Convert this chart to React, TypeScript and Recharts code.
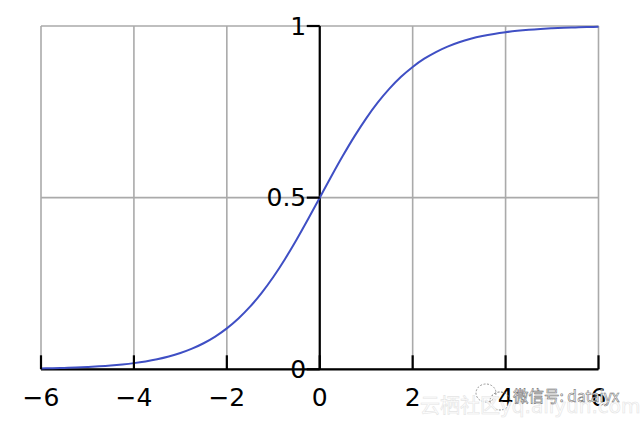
import React from "react";
import { ComposedChart, Line, XAxis, YAxis, CartesianGrid, ReferenceLine } from "recharts";

const xValues = [-6,-5.75,-5.5,-5.25,-5,-4.75,-4.5,-4.25,-4,-3.75,-3.5,-3.25,-3,-2.75,-2.5,-2.25,-2,-1.75,-1.5,-1.25,-1,-0.75,-0.5,-0.25,0,0.25,0.5,0.75,1,1.25,1.5,1.75,2,2.25,2.5,2.75,3,3.25,3.5,3.75,4,4.25,4.5,4.75,5,5.25,5.5,5.75,6];
const yValues = [0.0025,0.0032,0.0041,0.0052,0.0067,0.0086,0.011,0.0141,0.018,0.023,0.0293,0.0373,0.0474,0.0601,0.0759,0.0953,0.1192,0.148,0.1824,0.2227,0.2689,0.3208,0.3775,0.4378,0.5,0.5622,0.6225,0.6792,0.7311,0.7773,0.8176,0.852,0.8808,0.9047,0.9241,0.9399,0.9526,0.9627,0.9707,0.977,0.982,0.9859,0.989,0.9914,0.9933,0.9948,0.9959,0.9968,0.9975];
const xTicks = [-6,-4,-2,0,2,4,6];
const yTicks = [0,0.5,1];
const rows = xValues.map((x, i) => ({ x, y: yValues[i] }));

const W = 640, H = 427;
const FONT = "'DejaVu Sans', sans-serif";
const margin = { top: 26, right: 41.5, bottom: 0, left: 0 };
const AXIS_W = 41, AXIS_H = 57.7;
const plotW = W - AXIS_W - margin.right;

const XTick = (p: any) => {
  const v = p.payload.value;
  const baseY = H - AXIS_H;
  return (
    <g>
      <line x1={p.x} x2={p.x} y1={baseY} y2={baseY - 14} stroke="#000" strokeWidth={2.2} />
      <text x={p.x} y={baseY + 37} textAnchor="middle" fontFamily={FONT} fontSize={25} fill="#000">
        {v < 0 ? `\u2212${-v}` : v}
      </text>
    </g>
  );
};

const YTick = (p: any) => {
  const axisX = AXIS_W + plotW / 2;
  return (
    <g>
      <line x1={axisX - 13} x2={axisX} y1={p.y} y2={p.y} stroke="#000" strokeWidth={2.2} />
      <text x={axisX - 13.5} y={p.y + 8.5} textAnchor="end" fontFamily={FONT} fontSize={25} fill="#000">
        {p.payload.value}
      </text>
    </g>
  );
};

export default function App() {
  return (
    <div style={{ position: "absolute", left: 0, top: 0, width: W, height: H, background: "#fff" }}>
      <ComposedChart width={W} height={H} data={rows} margin={margin}>
        <CartesianGrid stroke="#aaaaaa" strokeWidth={1.6} verticalValues={xTicks} horizontalValues={yTicks} />
        <XAxis dataKey="x" type="number" domain={[-6, 6]} ticks={xTicks} interval={0} axisLine={false} tickLine={false} tick={<XTick />} height={AXIS_H} />
        <YAxis type="number" domain={[0, 1]} ticks={yTicks} interval={0} axisLine={false} tickLine={false} tick={<YTick />} width={AXIS_W} />
        <ReferenceLine x={0} stroke="#000" strokeWidth={2.2} />
        <ReferenceLine y={0} stroke="#000" strokeWidth={2.2} />
        <Line dataKey="y" type="monotone" stroke="#3f4fc4" strokeWidth={2} dot={false} isAnimationActive={false} />
      </ComposedChart>
      <svg width={W} height={H} style={{ position: "absolute", left: 0, top: 0, pointerEvents: "none" }}>
        <ellipse cx={486} cy={393} rx={10} ry={9} fill="none" stroke="#999" strokeWidth={1} strokeDasharray="2 1.5" />
        <ellipse cx={500} cy={401} rx={10} ry={9} fill="none" stroke="#777" strokeWidth={1} strokeDasharray="2 1.5" />
        <text x={420} y={413} fontFamily="'Noto Sans CJK SC', sans-serif" fontSize={20} fill="#fff" stroke="#e4e4e4" strokeWidth={0.6}>云栖社区</text>
        <text x={500} y={413} fontFamily={FONT} fontSize={20} fill="#fff" stroke="#e4e4e4" strokeWidth={0.6}>yq.aliyun.com</text>
        <text x={513} y={402} fontFamily="'Noto Sans CJK SC', sans-serif" fontSize={15.5} fill="#fff" stroke="#666" strokeWidth={0.5}>微信号: dataiyx</text>
      </svg>
    </div>
  );
}
